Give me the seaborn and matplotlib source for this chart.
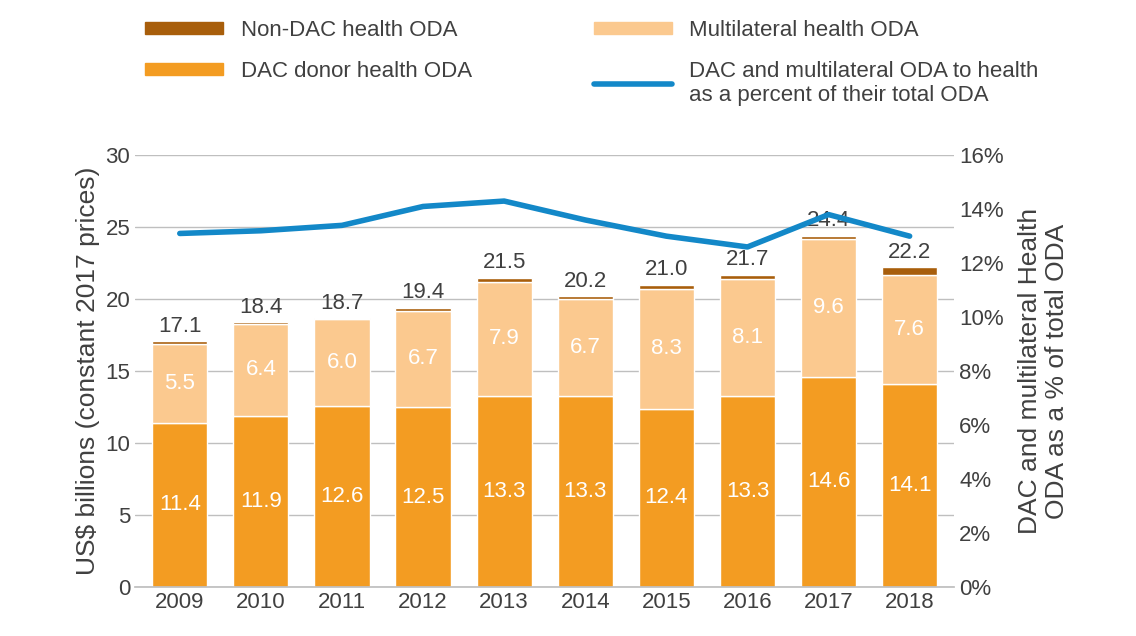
import numpy as np
import pandas as pd
import matplotlib
matplotlib.use("Agg")
import matplotlib.pyplot as plt
import seaborn as sns
from matplotlib.patches import Patch
from matplotlib.lines import Line2D

years = ['2009', '2010', '2011', '2012', '2013', '2014', '2015', '2016', '2017', '2018']
dac = [11.4, 11.9, 12.6, 12.5, 13.3, 13.3, 12.4, 13.3, 14.6, 14.1]
multi = [5.5, 6.4, 6.0, 6.7, 7.9, 6.7, 8.3, 8.1, 9.6, 7.6]
non_dac = [0.2, 0.1, 0.1, 0.2, 0.3, 0.2, 0.3, 0.3, 0.2, 0.5]
totals = [17.1, 18.4, 18.7, 19.4, 21.5, 20.2, 21.0, 21.7, 24.4, 22.2]
pct = [13.1, 13.2, 13.4, 14.1, 14.3, 13.6, 13.0, 12.6, 13.8, 13.0]

c_dac, c_multi, c_non, c_line = '#F39C22', '#FBC98F', '#A85E0B', '#1388C8'
txt = '#404040'

sns.set_theme(style='white')
plt.rcParams['font.family'] = ['Liberation Sans', 'DejaVu Sans']

df = pd.DataFrame({'year': years, 'dac': dac, 'multi': multi, 'non': non_dac, 'pct': pct})
df['b2'] = df['dac'] + df['multi']

fig = plt.figure(figsize=(11.36, 6.36), dpi=100)
ax = fig.add_axes([0.119, 0.077, 0.721, 0.679])

sns.barplot(data=df, x='year', y='dac', color=c_dac, width=0.68, ax=ax, saturation=1)
sns.barplot(data=df, x='year', y='multi', bottom=df['dac'], color=c_multi, width=0.68, ax=ax, saturation=1)
sns.barplot(data=df, x='year', y='non', bottom=df['b2'], color=c_non, width=0.68, ax=ax, saturation=1)

ax.set_ylim(0, 30)
ax.set_yticks(range(0, 31, 5))
ax.yaxis.grid(True, color='#BFBFBF', lw=1)
ax.set_axisbelow(True)
for s in ['top', 'right', 'left']:
    ax.spines[s].set_visible(False)
ax.spines['bottom'].set_color('#BFBFBF')
ax.set_xlabel('')
ax.set_ylabel('US$ billions (constant 2017 prices)', fontsize=19, color=txt)
ax.tick_params(axis='both', labelsize=16, colors=txt, length=0)

for i in range(len(years)):
    ax.text(i, dac[i] / 2, f'{dac[i]:.1f}', ha='center', va='center', color='white', fontsize=16)
    ax.text(i, dac[i] + multi[i] / 2, f'{multi[i]:.1f}', ha='center', va='center', color='white', fontsize=16)
    ax.text(i, totals[i] + 0.3, f'{totals[i]:.1f}', ha='center', va='bottom', color=txt, fontsize=16)

ax2 = ax.twinx()
ax2.plot(range(len(years)), pct, color=c_line, lw=4, solid_capstyle='round')
ax2.set_ylim(0, 16)
ax2.set_yticks(range(0, 17, 2))
ax2.set_yticklabels([f'{v}%' for v in range(0, 17, 2)])
ax2.tick_params(axis='y', labelsize=16, colors=txt, length=0)
for s in ax2.spines.values():
    s.set_visible(False)
ax2.set_ylabel('DAC and multilateral Health\nODA as a % of total ODA', fontsize=19, color=txt, labelpad=10)
ax.set_xlim(-0.55, 9.55)

handles = [Patch(color=c_non), Patch(color=c_multi), Patch(color=c_dac),
           Line2D([0], [0], color=c_line, lw=4)]
labels = ['Non-DAC health ODA', 'Multilateral health ODA', 'DAC donor health ODA',
          'DAC and multilateral ODA to health\nas a percent of their total ODA']
order = [0, 2, 1, 3]
fig.legend([handles[k] for k in order], [labels[k] for k in order], ncol=2,
           loc='upper left', bbox_to_anchor=(0.11, 1.0), frameon=False, fontsize=16,
           labelcolor=txt, handlelength=3.5, handleheight=0.5, columnspacing=5.5,
           labelspacing=0.9)

fig.savefig('out.png', dpi=100)
